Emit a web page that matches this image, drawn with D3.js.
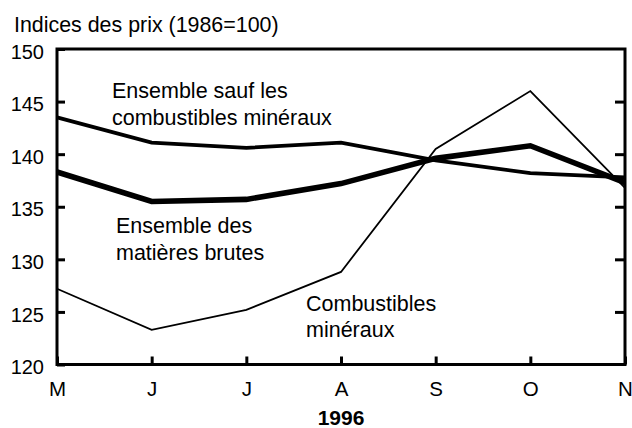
<!DOCTYPE html>
<html>
<head>
<meta charset="utf-8">
<script src="https://cdn.jsdelivr.net/npm/d3@7"></script>
<style>
    body { margin: 0; background: #ffffff; }
    svg { display: block; font-family: "Liberation Sans", Arial, sans-serif; }
</style>
</head>
<body>
<svg id="chart" width="632" height="428"></svg>
<script>
// values
const months = ["M", "J", "J", "A", "S", "O", "N"];
const y_ticks = [120, 125, 130, 135, 140, 145, 150];
const matieres_brutes = [138.3, 135.5, 135.7, 137.2, 139.6, 140.8, 137.3];
const sauf_combustibles = [143.5, 141.1, 140.6, 141.1, 139.4, 138.2, 137.8];
const combustibles = [127.2, 123.3, 125.2, 128.8, 140.5, 146.0, 136.8];

const series = [
    { values: sauf_combustibles, width: 3.8 },
    { values: combustibles, width: 1.8 },
    { values: matieres_brutes, width: 5.6 }
];

const labels = [
    { lines: ["Ensemble sauf les", "combustibles minéraux"], x: 112, y: 98 },
    { lines: ["Ensemble des", "matières brutes"], x: 116, y: 233 },
    { lines: ["Combustibles", "minéraux"], x: 306, y: 310.5 }
];

const svg = d3.select("#chart");
const plot = { left: 57, right: 625, top: 49, bottom: 364.5 };

const x = d3.scaleLinear().domain([0, months.length - 1]).range([plot.left, plot.right]);
const y = d3.scaleLinear().domain([120, 150]).range([plot.bottom, plot.top]);

// frame
svg.append("rect")
    .attr("x", plot.left)
    .attr("y", plot.top)
    .attr("width", plot.right - plot.left)
    .attr("height", plot.bottom - plot.top)
    .attr("fill", "none")
    .attr("stroke", "#000")
    .attr("stroke-width", 3);

// left axis, ticks pointing inward
const y_axis = svg.append("g")
    .attr("transform", "translate(" + plot.left + ",0)")
    .call(d3.axisLeft(y).tickValues(y_ticks).tickSizeInner(-8).tickSizeOuter(0).tickPadding(13));
y_axis.select(".domain").remove();
y_axis.selectAll("line").attr("stroke-width", 3);
y_axis.selectAll("text")
    .attr("dy", "0.46em")
    .style("font-size", "20px")
    .style("font-family", "Liberation Sans, Arial, sans-serif")
    .attr("fill", "#000");

// right axis, ticks only
const y_axis_right = svg.append("g")
    .attr("transform", "translate(" + plot.right + ",0)")
    .call(d3.axisRight(y).tickValues(y_ticks.slice(1, -1)).tickSizeInner(-10).tickSizeOuter(0).tickFormat(""));
y_axis_right.select(".domain").remove();
y_axis_right.selectAll("line").attr("stroke-width", 3);

// bottom axis, ticks pointing up
const x_axis = svg.append("g")
    .attr("transform", "translate(0," + plot.bottom + ")")
    .call(d3.axisBottom(x).tickValues(d3.range(months.length)).tickFormat(i => months[i])
        .tickSizeInner(-8).tickSizeOuter(0).tickPadding(17));
x_axis.select(".domain").remove();
x_axis.selectAll("line").attr("stroke-width", 3);
x_axis.selectAll("text")
    .style("font-size", "20.5px")
    .style("font-family", "Liberation Sans, Arial, sans-serif")
    .attr("fill", "#000");

// series lines
const line = d3.line()
    .x((d, i) => x(i))
    .y(d => y(d));

svg.selectAll("path.serie")
    .data(series)
    .enter()
    .append("path")
    .attr("class", "serie")
    .attr("d", d => line(d.values))
    .attr("fill", "none")
    .attr("stroke", "#000")
    .attr("stroke-width", d => d.width)
    .attr("stroke-linejoin", "miter");

// series labels
const label_groups = svg.selectAll("text.label")
    .data(labels)
    .enter()
    .append("text")
    .attr("class", "label")
    .attr("x", d => d.x)
    .attr("y", d => d.y)
    .style("font-size", "21.5px");

label_groups.selectAll("tspan")
    .data(d => d.lines.map((t, i) => ({ text: t, x: d.x, i: i })))
    .enter()
    .append("tspan")
    .attr("x", d => d.x)
    .attr("dy", d => d.i == 0 ? 0 : 26.5)
    .text(d => d.text);

// titles
svg.append("text")
    .attr("x", 14)
    .attr("y", 31.5)
    .style("font-size", "21.4px")
    .text("Indices des prix (1986=100)");

svg.append("text")
    .attr("x", (plot.left + plot.right) / 2)
    .attr("y", 425)
    .attr("text-anchor", "middle")
    .style("font-size", "21px")
    .style("font-weight", "bold")
    .text("1996");
</script>
</body>
</html>
